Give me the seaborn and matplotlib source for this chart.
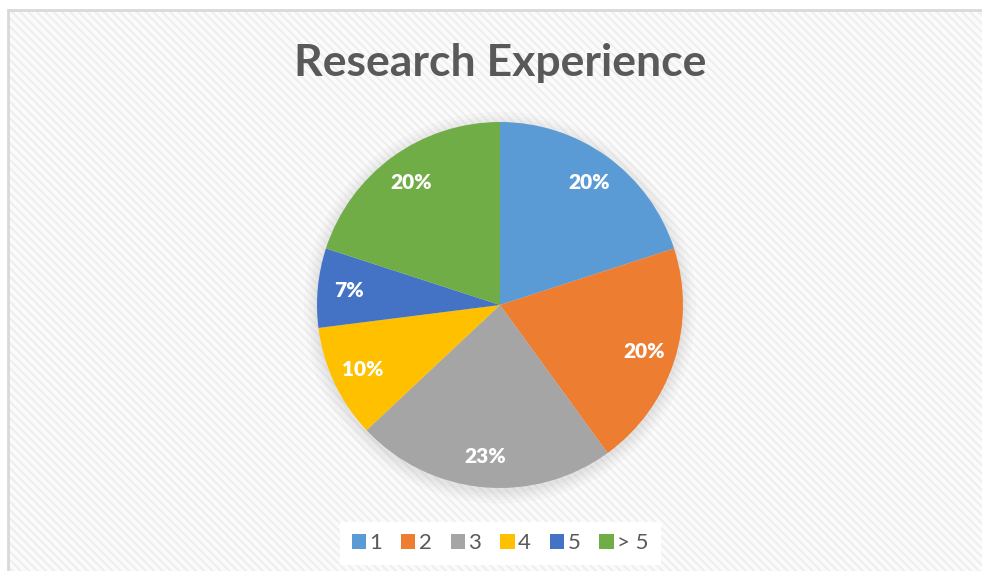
import matplotlib
matplotlib.use("Agg")
import matplotlib.pyplot as plt
import seaborn as sns
from matplotlib.patches import Rectangle, Circle, Patch

# data
categories = ["1", "2", "3", "4", "5", "> 5"]
shares = [20, 20, 23, 10, 7, 20]
colors = ["#5B9BD5", "#ED7D31", "#A5A5A5", "#FFC000", "#4472C4", "#70AD47"]
title = "Research Experience"

sns.set_theme(style="white")
plt.rcParams["font.family"] = ["Lato", "DejaVu Sans"]
plt.rcParams["hatch.linewidth"] = 1.4

W, H = 982, 571
fig = plt.figure(figsize=(W / 100, H / 100), dpi=100)
fig.patch.set_facecolor("white")

# chart area: striped background + light border (behind the axes)
x0, ytop = 8 / W, 1 - 10 / H
fig.patches.append(Rectangle((x0, -0.1), 1.2, ytop + 0.1, transform=fig.transFigure,
                             facecolor="#FBFBFB", edgecolor="#EEEEEE", hatch="\\\\\\\\",
                             linewidth=0, zorder=-2))
fig.patches.append(Rectangle((x0, -0.1), 1.2, ytop + 0.1, transform=fig.transFigure,
                             facecolor="none", edgecolor="#D9D9D9", linewidth=2, zorder=-1))

# pie centred at (500, 305) px with radius 183 px
cx, cy, r = 500, 305, 183
ax = fig.add_axes([(cx - r) / W, (H - cy - r) / H, 2 * r / W, 2 * r / H])
ax.set_facecolor("none")

# soft shadow under the pie
for rad in [1.07, 1.05, 1.035, 1.02, 1.01]:
    ax.add_patch(Circle((0.0, -0.015), rad, facecolor="#7F7F7F", alpha=0.035,
                        edgecolor="none", clip_on=False, zorder=0))

wedges, texts, autotexts = ax.pie(shares, colors=colors, startangle=90, counterclock=False,
                                  autopct="%d%%", pctdistance=0.83,
                                  wedgeprops=dict(linewidth=0))
for t in autotexts:
    t.set_color("white")
    t.set_fontweight("heavy")
    t.set_fontsize(15)
ax.set_xlim(-1, 1)
ax.set_ylim(-1, 1)
ax.set_aspect("equal")
ax.axis("off")

fig.text(cx / W, 1 - 63 / H, title, ha="center", va="center",
         fontsize=32, fontweight="bold", color="#595959")

handles = [Patch(facecolor=c, edgecolor="none") for c in colors]
leg = fig.legend(handles, categories, loc="center", bbox_to_anchor=(cx / W, 1 - 543 / H),
                 ncol=6, frameon=True, fancybox=False, facecolor="white", edgecolor="white",
                 framealpha=1, fontsize=16, handlelength=0.65, handleheight=0.65,
                 handletextpad=0.15, columnspacing=0.85, borderpad=0.5)
for t in leg.get_texts():
    t.set_color("#595959")

fig.savefig("out.png", dpi=100)
